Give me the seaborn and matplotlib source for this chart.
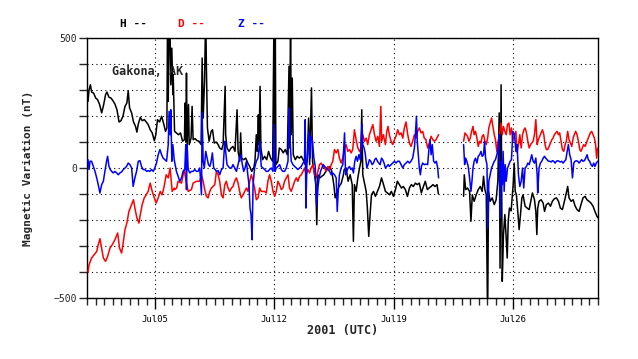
import numpy as np
import pandas as pd
import matplotlib
matplotlib.use("Agg")
import matplotlib.pyplot as plt
import matplotlib.dates as mdates
from matplotlib.ticker import MultipleLocator, FixedLocator
import seaborn as sns

# time in days after 2001-07-01 00:00 UTC, values in nT (nan = data gap)
h_days = [0.06, 0.12, 0.2, 0.27, 0.39, 0.51, 0.62, 0.74, 0.86, 0.98, 1.09, 1.17, 1.29, 1.41, 1.52, 1.64, 1.76, 1.88, 1.99, 2.11,
          2.23, 2.34, 2.42, 2.5, 2.62, 2.73, 2.85, 2.93, 3.01, 3.13, 3.24, 3.36, 3.48, 3.59, 3.71, 3.83, 3.95, 4.04, 4.14, 4.26,
          4.38, 4.49, 4.61, 4.69, 4.73, 4.77, 4.8, 4.86, 4.92, 4.98, 5.04, 5.06, 5.14, 5.25, 5.37, 5.49, 5.61, 5.72, 5.76, 5.8,
          5.84, 5.88, 5.96, 6.0, 6.11, 6.17, 6.23, 6.35, 6.46, 6.58, 6.7, 6.76, 6.82, 6.9, 6.97, 7.01, 7.07, 7.17, 7.29, 7.37,
          7.47, 7.58, 7.7, 7.79, 7.91, 7.99, 8.11, 8.14, 8.22, 8.34, 8.46, 8.57, 8.69, 8.81, 8.87, 8.97, 9.02, 9.08, 9.2, 9.32,
          9.44, 9.55, 9.67, 9.79, 9.86, 9.94, 10.0, 10.06, 10.1, 10.16, 10.21, 10.31, 10.43, 10.55, 10.66, 10.78, 10.9, 10.98, 11.02, 11.05,
          11.09, 11.21, 11.29, 11.41, 11.52, 11.64, 11.76, 11.86, 11.9, 11.95, 11.99, 12.05, 12.11, 12.23, 12.34, 12.46, 12.58, 12.69, 12.81, 12.93,
          13.01, 13.07, 13.18, 13.24, 13.36, 13.43, 13.49, 13.55, 13.67, 13.79, 13.9, 14.02, 14.14, 14.26, 14.37, 14.49, 14.57, 14.69, 14.8, 14.92,
          15.04, 15.1, 15.21, 15.33, 15.45, 15.57, 15.64, 15.7, 15.8, 15.9, 16.0, 16.08, 16.13, 16.19, 16.29, 16.39, 16.46, 16.54, 16.62, 16.7,
          16.82, 16.93, 17.05, 17.17, 17.29, 17.41, 17.52, 17.64, 17.75, 17.87, 17.99, 18.11, 18.22, 18.34, 18.46, 18.57, 18.69, 18.81, 18.93, 19.04,
          19.16, 19.28, 19.39, 19.51, 19.63, 19.75, 19.86, 19.98, 20.08, 20.2, 20.31, 20.43, 20.55, 20.63, 21.4, 22.11, 22.15, 22.23, 22.34, 22.46,
          22.54, 22.62, 22.73, 22.85, 22.97, 23.09, 23.2, 23.28, 23.36, 23.44, 23.52, 23.57, 23.67, 23.79, 23.91, 24.02, 24.12, 24.2, 24.25, 24.31,
          24.38, 24.45, 24.53, 24.61, 24.67, 24.73, 24.8, 24.9, 25.02, 25.08, 25.14, 25.21, 25.29, 25.37, 25.45, 25.53, 25.6, 25.72, 25.84, 25.96,
          26.07, 26.15, 26.27, 26.35, 26.41, 26.46, 26.54, 26.66, 26.78, 26.86, 26.97, 27.09, 27.21, 27.32, 27.44, 27.56, 27.68, 27.79, 27.91, 28.03,
          28.14, 28.22, 28.3, 28.42, 28.54, 28.66, 28.77, 28.89, 29.0, 29.12, 29.24, 29.35, 29.47, 29.59, 29.71, 29.82, 29.94, 30.0]
h_vals = [256, 301, 320, 292, 288, 269, 263, 244, 212, 244, 282, 292, 272, 269, 259, 246, 224, 177, 182, 199,
          237, 250, 297, 231, 212, 177, 160, 138, 169, 195, 182, 186, 177, 167, 147, 135, 105, 128, 186, 177,
          199, 173, 141, 154, 600, 256, 436, 600, 320, 461, 282, 359, 141, 135, 128, 135, 103, 109, 250, 103,
          365, 90, 244, 90, 115, 237, 109, 113, 105, 103, 90, 423, 192, 333, 600, 385, 154, 103, 141, 147,
          96, 100, 90, 77, 71, 90, 314, 128, 77, 64, 77, 83, 64, 224, 64, 26, 135, 38, 32, 38,
          19, 6, -13, 0, 26, 128, 64, 205, 90, 314, 77, 32, 45, 32, 64, 38, 26, 600, 0, 600,
          13, 26, 77, 71, 58, 71, 51, 391, 77, 600, 128, 346, 51, 32, 45, 38, 45, 32, 13, 26,
          192, 13, 308, 26, -26, -64, -218, -26, -38, -32, -26, -13, 0, 6, -13, -64, -115, -90, -71, -60,
          -30, -6, 0, -51, -26, -64, -282, -64, -90, -38, 0, 26, 224, -26, -58, -90, -154, -263, -179, -103,
          -90, -109, -90, -71, -38, -64, -90, -96, -103, -90, -109, -83, -51, -64, -77, -71, -83, -109, -77, -64,
          -71, -58, -64, -58, -96, -71, -51, -83, -77, -71, -64, -71, -64, -100, np.nan, -109, -26, -83, -77, -90,
          -205, -103, -128, -103, -83, -71, -90, -32, -83, -103, -600, -90, -128, -115, -141, -122, -51, 212, -385, 320,
          -436, -256, -179, -269, -346, -205, -154, -165, -64, 19, -90, -103, -167, -237, -179, -115, -103, -147, -154, -160,
          -122, -96, -122, -167, -256, -154, -128, -122, -135, -167, -141, -135, -147, -128, -118, -115, -128, -154, -160, -128,
          -96, -71, -115, -128, -122, -147, -160, -167, -141, -115, -109, -122, -128, -135, -147, -167, -186, -192]

d_days = [0.06, 0.12, 0.27, 0.43, 0.57, 0.66, 0.76, 0.86, 0.96, 1.09, 1.21, 1.35, 1.48, 1.64, 1.8, 1.91, 2.03, 2.11, 2.23, 2.34,
          2.46, 2.62, 2.73, 2.81, 2.93, 3.05, 3.13, 3.24, 3.36, 3.48, 3.59, 3.71, 3.83, 3.95, 4.06, 4.18, 4.3, 4.41, 4.53, 4.65,
          4.77, 4.88, 5.0, 5.12, 5.16, 5.26, 5.35, 5.55, 5.7, 5.82, 5.94, 6.13, 6.23, 6.43, 6.62, 6.72, 6.82, 6.91, 7.01, 7.11,
          7.21, 7.3, 7.4, 7.5, 7.6, 7.7, 7.79, 7.89, 7.99, 8.09, 8.18, 8.28, 8.38, 8.48, 8.57, 8.67, 8.77, 8.87, 8.96, 9.06,
          9.16, 9.26, 9.36, 9.45, 9.55, 9.65, 9.75, 9.84, 9.94, 10.04, 10.14, 10.23, 10.43, 10.53, 10.62, 10.72, 10.82, 10.92, 11.02, 11.11,
          11.21, 11.31, 11.41, 11.5, 11.6, 11.7, 11.8, 11.89, 11.99, 12.09, 12.19, 12.29, 12.38, 12.48, 12.58, 12.68, 12.77, 12.87, 12.97, 13.07,
          13.16, 13.26, 13.36, 13.46, 13.55, 13.65, 13.75, 13.85, 13.95, 14.04, 14.14, 14.24, 14.34, 14.43, 14.53, 14.63, 14.73, 14.82, 14.92, 15.02,
          15.12, 15.21, 15.31, 15.41, 15.51, 15.6, 15.7, 15.8, 15.9, 16.0, 16.09, 16.19, 16.29, 16.39, 16.48, 16.58, 16.68, 16.78, 16.88, 16.97,
          17.07, 17.17, 17.25, 17.3, 17.4, 17.52, 17.6, 17.67, 17.75, 17.85, 17.95, 18.05, 18.14, 18.24, 18.34, 18.44, 18.54, 18.63, 18.73, 18.83,
          18.93, 19.02, 19.12, 19.22, 19.32, 19.41, 19.51, 19.61, 19.71, 19.8, 19.9, 20.0, 20.1, 20.2, 20.3, 20.39, 20.49, 20.59, 20.64, 21.4,
          22.11, 22.19, 22.27, 22.34, 22.42, 22.5, 22.58, 22.66, 22.73, 22.81, 22.89, 22.97, 23.05, 23.13, 23.2, 23.28, 23.36, 23.44, 23.52, 23.59,
          23.67, 23.75, 23.83, 23.91, 23.98, 24.06, 24.14, 24.22, 24.3, 24.38, 24.45, 24.53, 24.61, 24.69, 24.77, 24.84, 24.92, 25.0, 25.1, 25.18,
          25.25, 25.33, 25.41, 25.49, 25.57, 25.65, 25.72, 25.8, 25.88, 25.96, 26.04, 26.11, 26.19, 26.27, 26.35, 26.43, 26.5, 26.58, 26.66, 26.74,
          26.82, 26.89, 26.97, 27.05, 27.13, 27.21, 27.29, 27.36, 27.44, 27.52, 27.6, 27.68, 27.75, 27.83, 27.91, 27.99, 28.07, 28.14, 28.22, 28.3,
          28.38, 28.46, 28.54, 28.61, 28.69, 28.77, 28.85, 28.93, 29.0, 29.08, 29.16, 29.24, 29.32, 29.39, 29.47, 29.55, 29.63, 29.71, 29.79, 29.86,
          29.92, 29.98]
d_vals = [-400, -372, -346, -333, -321, -295, -272, -308, -346, -359, -340, -308, -295, -276, -250, -308, -327, -295, -237, -212,
          -167, -141, -122, -154, -192, -212, -179, -141, -115, -103, -90, -58, -90, -115, -135, -115, -90, -103, -71, -26,
          -38, 0, -90, -77, -83, -77, -51, -58, -6, -51, -90, -83, -58, -51, -51, -26, -51, -83, -109, -115,
          -90, -77, -71, -64, -13, -26, -51, -103, -115, -64, -51, -77, -90, -77, -71, -51, -38, -58, -90, -115,
          -103, -90, -77, -90, -51, -26, -51, -77, -122, -115, -77, -90, -90, -96, -51, -26, -51, -90, -109, -90,
          -51, -64, -83, -77, -51, -38, -26, -77, -90, -71, -51, -38, -51, -32, -26, -13, 0, -26, -6, -19,
          0, 13, -26, -38, -13, 13, 19, 6, 0, -13, 6, -6, 13, 26, 71, 58, 71, 38, 19, 40,
          77, 90, 64, 71, 58, 71, 147, 109, 77, 64, 77, 128, 103, 115, 90, 128, 147, 167, 128, 103,
          122, 83, 237, 103, 128, 90, 141, 160, 128, 103, 90, 109, 122, 147, 128, 135, 115, 154, 177, 128,
          96, 83, 103, 128, 115, 141, 154, 135, 141, 115, 109, 77, 96, 122, 109, 103, 109, 122, 128, np.nan,
          103, 135, 128, 122, 103, 115, 141, 160, 128, 141, 115, 83, 103, 96, 122, 128, 103, 90, 115, 154,
          173, 192, 160, 128, 109, 64, 103, 128, 173, 128, 160, 141, 128, 167, 173, 128, 154, 103, 128, 141,
          58, 90, 128, 77, 128, 147, 154, 135, 103, 77, 90, 96, 103, 128, 186, 90, 109, 122, 135, 147,
          128, 90, 71, 71, 83, 96, 109, 115, 128, 135, 141, 128, 135, 103, 71, 64, 90, 103, 141, 109,
          96, 83, 115, 128, 141, 128, 103, 71, 64, 77, 90, 83, 96, 109, 122, 135, 141, 128, 115, 90,
          38, 77]

z_days = [0.06, 0.12, 0.18, 0.27, 0.37, 0.47, 0.57, 0.66, 0.76, 0.86, 0.96, 1.05, 1.15, 1.21, 1.29, 1.37, 1.45, 1.54, 1.64, 1.74,
          1.84, 1.93, 2.03, 2.13, 2.23, 2.32, 2.42, 2.52, 2.62, 2.71, 2.81, 2.91, 3.01, 3.11, 3.2, 3.3, 3.4, 3.5, 3.59, 3.69,
          3.79, 3.89, 3.98, 4.08, 4.18, 4.28, 4.38, 4.47, 4.57, 4.67, 4.77, 4.82, 4.88, 4.92, 4.98, 5.04, 5.12, 5.25, 5.35, 5.45,
          5.55, 5.64, 5.74, 5.8, 5.84, 5.88, 5.94, 6.04, 6.13, 6.23, 6.33, 6.43, 6.52, 6.62, 6.72, 6.76, 6.82, 6.89, 6.97, 7.05,
          7.13, 7.21, 7.29, 7.36, 7.44, 7.52, 7.6, 7.7, 7.79, 7.89, 7.99, 8.09, 8.14, 8.22, 8.3, 8.38, 8.48, 8.57, 8.67, 8.77,
          8.87, 8.96, 9.04, 9.12, 9.2, 9.28, 9.36, 9.44, 9.51, 9.57, 9.63, 9.69, 9.75, 9.84, 9.94, 10.04, 10.14, 10.23, 10.33, 10.43,
          10.53, 10.62, 10.72, 10.82, 10.92, 10.98, 11.04, 11.11, 11.21, 11.31, 11.41, 11.5, 11.6, 11.7, 11.8, 11.86, 11.91, 11.99, 12.09, 12.19,
          12.29, 12.38, 12.48, 12.58, 12.68, 12.77, 12.81, 12.85, 12.91, 12.97, 13.03, 13.09, 13.16, 13.24, 13.32, 13.4, 13.48, 13.55, 13.63, 13.71,
          13.79, 13.87, 13.95, 14.04, 14.14, 14.24, 14.34, 14.43, 14.53, 14.63, 14.69, 14.75, 14.82, 14.92, 15.02, 15.12, 15.18, 15.25, 15.33, 15.41,
          15.49, 15.57, 15.64, 15.72, 15.8, 15.88, 15.96, 16.04, 16.11, 16.15, 16.19, 16.27, 16.33, 16.43, 16.5, 16.58, 16.66, 16.74, 16.82, 16.89,
          16.97, 17.05, 17.13, 17.21, 17.29, 17.36, 17.44, 17.52, 17.6, 17.68, 17.75, 17.85, 17.95, 18.05, 18.14, 18.24, 18.34, 18.44, 18.54, 18.63,
          18.73, 18.83, 18.93, 19.02, 19.12, 19.22, 19.28, 19.34, 19.39, 19.45, 19.51, 19.57, 19.63, 19.71, 19.8, 19.9, 20.0, 20.08, 20.14, 20.2,
          20.27, 20.35, 20.43, 20.51, 20.59, 20.64, 21.4, 22.11, 22.17, 22.23, 22.3, 22.38, 22.46, 22.54, 22.6, 22.66, 22.73, 22.81, 22.89, 22.97,
          23.05, 23.13, 23.2, 23.28, 23.34, 23.4, 23.48, 23.54, 23.59, 23.67, 23.75, 23.83, 23.91, 23.98, 24.06, 24.14, 24.2, 24.26, 24.32, 24.38,
          24.43, 24.49, 24.55, 24.61, 24.69, 24.77, 24.84, 24.92, 25.0, 25.1, 25.18, 25.25, 25.33, 25.41, 25.49, 25.57, 25.64, 25.72, 25.8, 25.88,
          25.96, 26.04, 26.11, 26.19, 26.27, 26.35, 26.43, 26.46, 26.54, 26.62, 26.7, 26.78, 26.86, 26.93, 27.01, 27.09, 27.17, 27.25, 27.32, 27.4,
          27.48, 27.56, 27.64, 27.71, 27.79, 27.87, 27.95, 28.03, 28.11, 28.19, 28.26, 28.34, 28.42, 28.5, 28.58, 28.65, 28.73, 28.81, 28.89, 28.97,
          29.04, 29.12, 29.2, 29.28, 29.36, 29.43, 29.51, 29.59, 29.67, 29.75, 29.82, 29.9, 29.98]
z_vals = [32, -6, 26, 26, 6, -13, -38, -64, -96, -64, -51, -13, 26, 45, 6, -6, -13, -19, -13, -19,
          -26, -19, -15, -6, 0, 6, 19, 13, 0, -71, -38, -13, 26, 28, 6, -6, -6, -13, -10, -13,
          -6, -13, 0, 19, 51, 71, 51, 38, 32, 26, 90, 218, 128, 224, 26, 90, 32, -13, -32, -51,
          -38, -13, -6, 90, -83, 90, -6, -19, -13, -13, -6, -13, -13, 0, -103, 212, 26, 0, 64, 38,
          13, 6, 26, 58, 0, -6, -13, -10, -26, -6, 0, 103, 64, 13, 6, 0, 0, 13, 0, -13,
          13, 38, 51, 13, -13, 0, 26, -26, -64, -154, -179, -276, -64, 0, 26, 38, 103, 6, 0, -6,
          -13, -13, -6, 0, -13, 167, -13, 0, 6, 13, -6, -13, -13, 0, 26, 231, 128, 26, 13, 6,
          0, -6, 0, 6, 19, 26, 186, -154, 13, 77, 141, 38, 122, 103, 38, 6, -147, -77, -38, -13,
          0, 13, 6, 0, -6, -13, -26, -19, -26, -38, -167, -90, -26, 0, 13, 135, -26, -13, 0, 6,
          -6, 0, -19, 26, 45, 26, 51, 32, 128, 167, 90, 77, 58, 0, 13, 32, 26, 13, 19, 32,
          38, 26, 19, 13, 38, 32, 19, 0, 6, 13, 6, 13, 19, 26, 19, 26, 26, 13, 0, 13,
          19, 26, 19, 26, 38, 77, 128, 199, 103, 51, 0, -26, 6, 19, 13, 15, 13, 77, 109, 51,
          90, 26, 19, 26, 0, -38, np.nan, 90, 13, 38, 26, 6, -38, -90, -51, 0, 26, 38, 19, 45,
          51, 64, 45, 51, 103, 38, 13, -231, -51, -26, 0, 13, 26, 32, 51, 77, 128, -192, 26, -64,
          64, -90, 13, -51, 0, 13, 26, 32, 141, 128, 64, 90, -26, -71, -51, 0, -77, 0, 6, 19,
          13, 32, 51, 26, 19, 38, -26, -96, 0, 19, 26, 38, 45, 38, 32, 26, 26, 23, 28, 26,
          19, 26, 28, 26, 23, 26, 19, 26, 32, 64, 90, 51, 32, -38, 19, 26, 28, 26, 19, 26,
          32, 26, 28, 38, 51, 32, 26, 13, 6, 19, 6, 19, 26]

components = ["H", "D", "Z"]
colors = {"H": "black", "D": "#ff0000", "Z": "#0000ff"}

start = pd.Timestamp("2001-07-01")
frames = []
for comp, days, vals in [("H", h_days, h_vals), ("D", d_days, d_vals), ("Z", z_days, z_vals)]:
    df = pd.DataFrame({"days": days, "nT": vals})
    df["comp"] = comp
    df["seg"] = df["nT"].isna().cumsum()  # split at the data gap
    frames.append(df.dropna())
data = pd.concat(frames, ignore_index=True)
data["time"] = start + pd.to_timedelta(data["days"], unit="D")

sns.set_style("white")
plt.rcParams["font.family"] = ["DejaVu Sans Mono"]

fig = plt.figure(figsize=(6.38, 3.59), dpi=100)
ax = fig.add_axes([87 / 638, 1 - 298 / 359, 511 / 638, 260 / 359])

sns.lineplot(data=data, x="time", y="nT", hue="comp", units="seg", estimator=None,
             palette=colors, hue_order=components, sort=False, legend=False,
             linewidth=1.1, ax=ax, zorder=3)

ax.set_xlim(start, start + pd.Timedelta(days=30))
ax.set_ylim(-500, 500)

# axes frame
for s in ax.spines.values():
    s.set_color("black")
    s.set_linewidth(1.0)

# x ticks: weekly labels, half-day minor ticks
ax.xaxis.set_major_locator(mdates.DayLocator(bymonthday=[5, 12, 19, 26]))
ax.xaxis.set_major_formatter(mdates.DateFormatter("%b%d"))
ax.xaxis.set_minor_locator(mdates.HourLocator(byhour=[0, 12]))
ax.tick_params(axis="x", which="major", direction="out", length=8, width=1, labelsize=6.5, pad=4, colors="black")
ax.tick_params(axis="x", which="minor", direction="out", length=5, width=1)
ax.tick_params(axis="x", which="both", bottom=True)

# y ticks: labels at -500, 0, 500 and ticks every 100
ax.yaxis.set_major_locator(FixedLocator([-500, 0, 500]))
ax.yaxis.set_minor_locator(MultipleLocator(100))
ax.tick_params(axis="y", which="both", direction="out", length=6, width=1, labelsize=7, pad=1, left=True)

ax.grid(True, axis="y", which="both", color="black", linestyle=(0, (1, 3)), linewidth=0.8)
ax.grid(True, axis="x", which="major", color="black", linestyle=(0, (1, 3)), linewidth=0.8)
ax.grid(False, axis="x", which="minor")
ax.set_axisbelow(True)

ax.set_xlabel("2001 (UTC)", fontsize=8.5, fontweight="bold", labelpad=0)
ax.set_ylabel("Magnetic Variation (nT)", fontsize=8, fontweight="bold", labelpad=15)

ax.text(0.049, 0.87, "Gakona, AK", transform=ax.transAxes, fontsize=8.5,
        fontweight="bold", va="center", ha="left", zorder=4)

# component key along the top
for comp, xpix in zip(components, [120, 178, 238]):
    fig.text(xpix / 638, 1 - 24 / 359, comp + " --", color=colors[comp],
             fontsize=8, fontweight="bold", ha="left", va="center")

fig.savefig("out.png", dpi=100)
